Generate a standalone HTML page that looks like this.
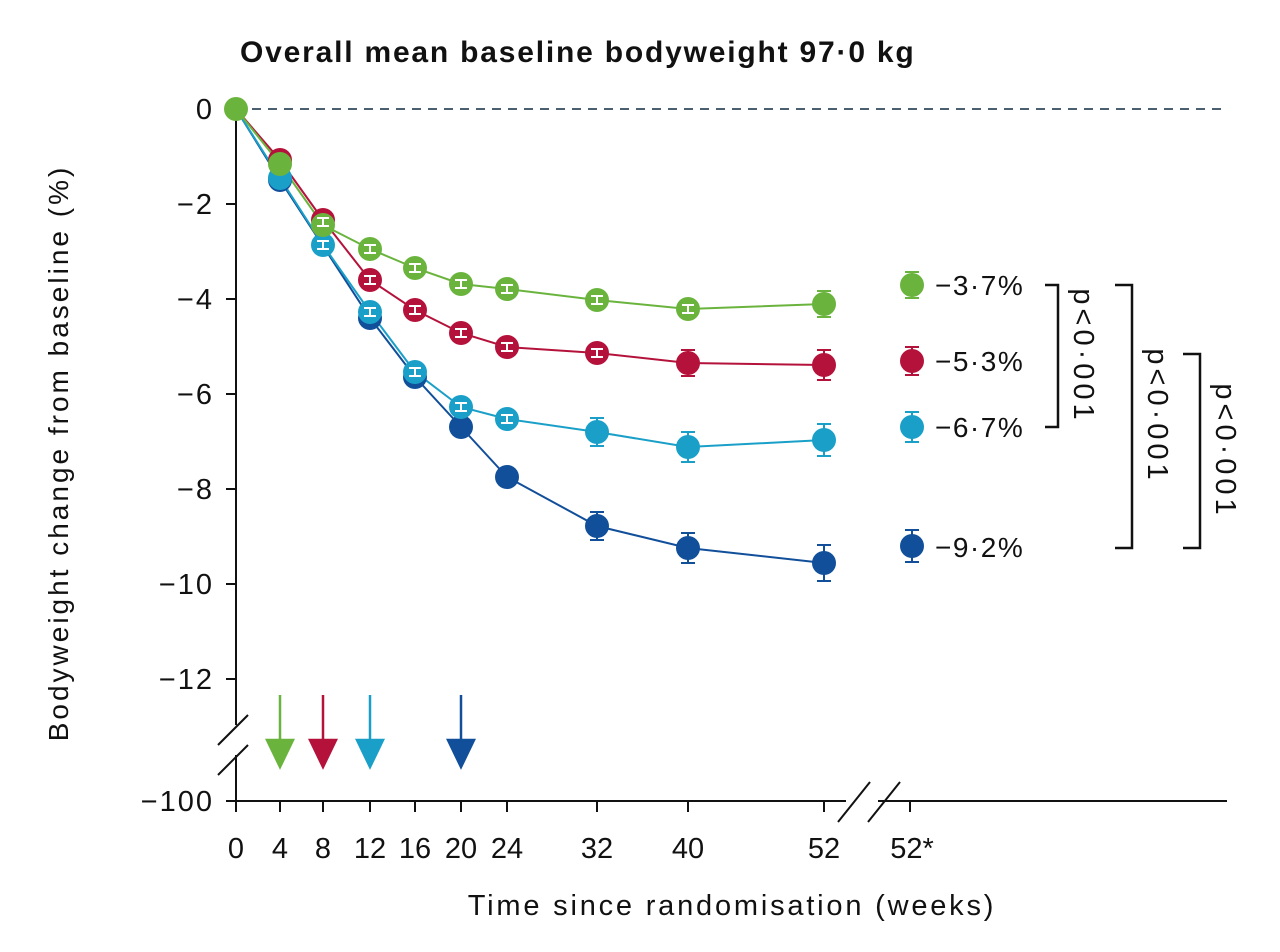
<!DOCTYPE html><html><head><meta charset="utf-8"><style>body{margin:0;background:#fff}svg{display:block;font-family:"Liberation Sans",sans-serif}</style></head><body>
<svg width="1280" height="952" viewBox="0 0 1280 952">
<text x="240" y="62" font-size="30" font-weight="bold" fill="#111" letter-spacing="1.8">Overall mean baseline bodyweight 97·0 kg</text>
<line x1="236" y1="109" x2="1227" y2="109" stroke="#4a6070" stroke-width="2" stroke-dasharray="9,7"/>
<g stroke="#111" stroke-width="2" fill="none">
<line x1="236" y1="100" x2="236" y2="725"/><line x1="236" y1="755" x2="236" y2="812"/>
<line x1="218" y1="745" x2="248" y2="715"/><line x1="218" y1="775" x2="248" y2="745"/>
<line x1="236" y1="801" x2="846" y2="801"/><line x1="878" y1="801" x2="1227" y2="801"/>
<line x1="838" y1="822" x2="870" y2="782"/><line x1="868" y1="822" x2="900" y2="782"/>
<g>
<line x1="226" y1="204" x2="236" y2="204"/><line x1="226" y1="299" x2="236" y2="299"/><line x1="226" y1="394" x2="236" y2="394"/><line x1="226" y1="489" x2="236" y2="489"/><line x1="226" y1="584" x2="236" y2="584"/><line x1="226" y1="679" x2="236" y2="679"/><line x1="226" y1="801" x2="236" y2="801"/><line x1="226" y1="109" x2="236" y2="109"/>
<line x1="280" y1="801" x2="280" y2="812"/><line x1="323" y1="801" x2="323" y2="812"/><line x1="370" y1="801" x2="370" y2="812"/><line x1="415" y1="801" x2="415" y2="812"/><line x1="461" y1="801" x2="461" y2="812"/><line x1="507" y1="801" x2="507" y2="812"/><line x1="597" y1="801" x2="597" y2="812"/><line x1="688" y1="801" x2="688" y2="812"/><line x1="824" y1="801" x2="824" y2="812"/><line x1="910" y1="801" x2="910" y2="812"/>
</g></g>
<g font-size="29" fill="#111" text-anchor="end" letter-spacing="2">
<text x="214" y="119">0</text><text x="214" y="214">−2</text><text x="214" y="309">−4</text><text x="214" y="404">−6</text><text x="214" y="499">−8</text><text x="214" y="594">−10</text><text x="214" y="689">−12</text><text x="214" y="811">−100</text></g>
<g font-size="29" fill="#111" text-anchor="middle">
<text x="236" y="858">0</text><text x="280" y="858">4</text><text x="323" y="858">8</text><text x="370" y="858">12</text><text x="415" y="858">16</text><text x="461" y="858">20</text><text x="507" y="858">24</text><text x="597" y="858">32</text><text x="688" y="858">40</text><text x="824" y="858">52</text><text x="912" y="858">52*</text>
<text x="732" y="915" letter-spacing="2.8">Time since randomisation (weeks)</text></g>
<text transform="translate(68,453) rotate(-90)" font-size="28" fill="#111" text-anchor="middle" letter-spacing="3">Bodyweight change from baseline (%)</text>
<g stroke-width="2.5">
<g stroke="#6ab43e" fill="#6ab43e"><line x1="280" y1="695" x2="280" y2="745"/><polygon points="267,740 293,740 280,767"/></g>
<g stroke="#b5123b" fill="#b5123b"><line x1="323" y1="695" x2="323" y2="745"/><polygon points="310,740 336,740 323,767"/></g>
<g stroke="#1aa0c8" fill="#1aa0c8"><line x1="370" y1="695" x2="370" y2="745"/><polygon points="357,740 383,740 370,767"/></g>
<g stroke="#114f9a" fill="#114f9a"><line x1="461" y1="695" x2="461" y2="745"/><polygon points="448,740 474,740 461,767"/></g>
</g>
<g fill="none" stroke-width="2">
<polyline stroke="#114f9a" points="236,109 280,180 370,318 415,377 461,427 507,477 597,526 688,548 824,563"/>
<polyline stroke="#1aa0c8" points="236,109 280,178 323,245 370,312 415,372 461,407 507,419 597,432 688,447 824,440"/>
<polyline stroke="#b5123b" points="236,109 280,160 323,220 370,280 415,310 461,333 507,347 597,353 688,363 824,365"/>
<polyline stroke="#6ab43e" points="236,109 280,164 323,225 370,249 415,268 461,284 507,289 597,300 688,309 824,304"/>
</g>
<g fill="#114f9a"><circle cx="280" cy="180" r="12"/><circle cx="370" cy="318" r="12"/><circle cx="415" cy="377" r="12"/><circle cx="461" cy="427" r="12"/><circle cx="507" cy="477" r="12"/><circle cx="597" cy="526" r="12"/><circle cx="688" cy="548" r="12"/><circle cx="824" cy="563" r="12"/><circle cx="912" cy="546" r="12"/></g>
<g stroke="#114f9a" stroke-width="2"><path d="M597 512v28M590 512h14M590 540h14M688 533v30M681 533h14M681 563h14M824 545v36M817 545h14M817 581h14M912 530v32M905 530h14M905 562h14"/></g>
<g fill="#1aa0c8"><circle cx="280" cy="178" r="12"/><circle cx="323" cy="245" r="12"/><circle cx="370" cy="312" r="12"/><circle cx="415" cy="372" r="12"/><circle cx="461" cy="407" r="12"/><circle cx="507" cy="419" r="12"/><circle cx="597" cy="432" r="12"/><circle cx="688" cy="447" r="12"/><circle cx="824" cy="440" r="12"/><circle cx="912" cy="427" r="12"/></g>
<g stroke="#1aa0c8" stroke-width="2"><path d="M597 418v28M590 418h14M590 446h14M688 432v30M681 432h14M681 462h14M824 424v32M817 424h14M817 456h14M912 412v30M905 412h14M905 442h14"/></g>
<g fill="#b5123b"><circle cx="280" cy="160" r="12"/><circle cx="323" cy="220" r="12"/><circle cx="370" cy="280" r="12"/><circle cx="415" cy="310" r="12"/><circle cx="461" cy="333" r="12"/><circle cx="507" cy="347" r="12"/><circle cx="597" cy="353" r="12"/><circle cx="688" cy="363" r="12"/><circle cx="824" cy="365" r="12"/><circle cx="912" cy="361" r="12"/></g>
<g stroke="#b5123b" stroke-width="2"><path d="M688 350v26M681 350h14M681 376h14M824 350v30M817 350h14M817 380h14M912 347v28M905 347h14M905 375h14"/></g>
<g fill="#6ab43e"><circle cx="236" cy="109" r="12"/><circle cx="280" cy="164" r="12"/><circle cx="323" cy="225" r="12"/><circle cx="370" cy="249" r="12"/><circle cx="415" cy="268" r="12"/><circle cx="461" cy="284" r="12"/><circle cx="507" cy="289" r="12"/><circle cx="597" cy="300" r="12"/><circle cx="688" cy="309" r="12"/><circle cx="824" cy="304" r="12"/><circle cx="912" cy="285" r="12"/></g>
<g stroke="#6ab43e" stroke-width="2"><path d="M824 291v26M817 291h14M817 317h14M912 272v26M905 272h14M905 298h14"/></g>
<g stroke="#fff" stroke-width="2" fill="none"><path d="M323 218v8M317 218h12M317 226h12M370 276v8M364 276h12M364 284h12M370 245v8M364 245h12M364 253h12M415 264v8M409 264h12M409 272h12M415 306v8M409 306h12M409 314h12M415 368v8M409 368h12M409 376h12M461 280v8M455 280h12M455 288h12M461 329v8M455 329h12M455 337h12M461 403v8M455 403h12M455 411h12M507 285v8M501 285h12M501 293h12M507 343v8M501 343h12M501 351h12M507 415v8M501 415h12M501 423h12M597 296v8M591 296h12M591 304h12M597 349v8M591 349h12M591 357h12M688 305v8M682 305h12M682 313h12M370 308v8M364 308h12M364 316h12M323 241v8M317 241h12M317 249h12"/></g>
<g font-size="28" fill="#111" letter-spacing="1.5"><text x="935" y="295">−3·7%</text><text x="935" y="371">−5·3%</text><text x="935" y="437">−6·7%</text><text x="935" y="557">−9·2%</text></g>
<g stroke="#111" stroke-width="2.5" fill="none"><path d="M1045 285h13v142h-13M1115 285h17v263h-17M1183 354h17v194h-17"/></g>
<g font-size="29" fill="#111" text-anchor="middle" letter-spacing="4">
<text transform="translate(1074,356) rotate(90)">p&lt;0·001</text>
<text transform="translate(1148,416) rotate(90)">p&lt;0·001</text>
<text transform="translate(1216,451) rotate(90)">p&lt;0·001</text></g>
</svg></body></html>
